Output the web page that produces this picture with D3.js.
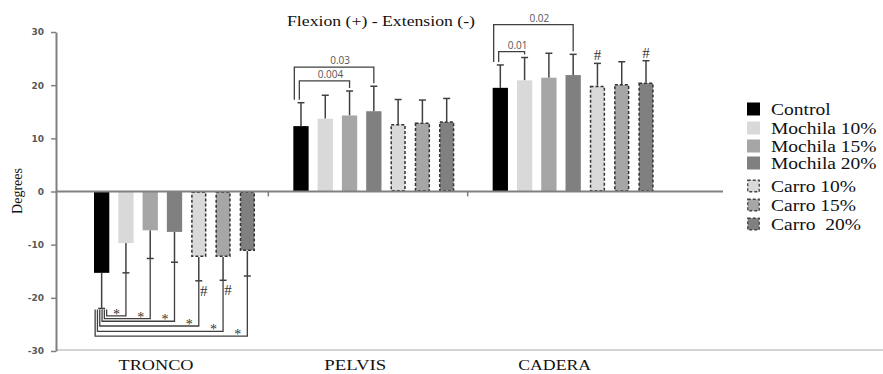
<!DOCTYPE html>
<html><head><meta charset="utf-8">
<script src="https://cdn.jsdelivr.net/npm/d3@7"></script>
<style>body{margin:0;background:#fff}svg{display:block}</style>
</head><body>
<svg id="c" width="883" height="374"></svg>
<script>
const categories = ["TRONCO", "PELVIS", "CADERA"];
const series = ["Control", "Mochila 10%", "Mochila 15%", "Mochila 20%", "Carro 10%", "Carro 15%", "Carro 20%"];
const legendLabels = ["Control", "Mochila 10%", "Mochila 15%", "Mochila 20%", "Carro 10%", "Carro 15%", "Carro  20%"];
// mean values per category, in series order
const troncoMeans = [-15.3, -9.7, -7.3, -7.6, -12.3, -12.3, -11.2];
const pelvisMeans = [12.3, 13.7, 14.3, 15.1, 12.7, 13.0, 13.2];
const caderaMeans = [19.5, 20.9, 21.4, 21.9, 19.9, 20.2, 20.5];
// error bar ends (mean ± SD) per category
const troncoErr = [-22.0, -15.3, -12.6, -13.3, -16.8, -16.7, -15.9];
const pelvisErr = [16.7, 18.1, 18.9, 19.8, 17.3, 17.2, 17.5];
const caderaErr = [23.8, 25.2, 26.0, 25.8, 24.1, 24.4, 24.6];
const yTicks = [-30, -20, -10, 0, 10, 20, 30];
// significance brackets in TRONCO (Control vs each), with their depth level
const troncoSig = [
  {to: "Mochila 10%", level: -23.4},
  {to: "Mochila 15%", level: -23.9},
  {to: "Mochila 20%", level: -24.4},
  {to: "Carro 10%", level: -25.3},
  {to: "Carro 15%", level: -26.3},
  {to: "Carro 20%", level: -27.2}
];
// p-value brackets
const pBrackets = [
  {cat: "PELVIS", to: "Mochila 20%", level: 23.4, label: "0.03", nest: 0},
  {cat: "PELVIS", to: "Mochila 15%", level: 20.8, label: "0.004", nest: 1},
  {cat: "CADERA", to: "Mochila 20%", level: 31.4, label: "0.02", nest: 0},
  {cat: "CADERA", to: "Mochila 10%", level: 26.3, label: "0.01", nest: 1}
];
// hash marks
const hashMarks = [
  {cat: "TRONCO", s: "Carro 10%"}, {cat: "TRONCO", s: "Carro 15%"},
  {cat: "CADERA", s: "Carro 10%"}, {cat: "CADERA", s: "Carro 20%"}
];

const meansBy = {TRONCO: troncoMeans, PELVIS: pelvisMeans, CADERA: caderaMeans};
const errBy = {TRONCO: troncoErr, PELVIS: pelvisErr, CADERA: caderaErr};
const fills = ["#000000", "#d9d9d9", "#a6a6a6", "#808080", "#d9d9d9", "#a6a6a6", "#808080"];
const dashed = [false, false, false, false, true, true, true];

const svg = d3.select("#c");
const y = d3.scaleLinear().domain([-30, 30]).range([351, 32]);
const x0 = d3.scaleBand().domain(categories).range([74, 672]);
const x1 = d3.scaleBand().domain(series).range([20, 181]).paddingInner(0.37);
const bw = x1.bandwidth();
const cx = (c, s) => x0(c) + x1(s) + bw / 2;

// bottom light line
svg.append("line").attr("x1", 56).attr("x2", 883).attr("y1", y(-30) - 1).attr("y2", y(-30) - 1)
  .attr("stroke", "#d4d4d4").attr("stroke-width", 2);

// y axis
const yAxis = svg.append("g").attr("transform", "translate(56,0)")
  .call(d3.axisLeft(y).tickValues(yTicks).tickFormat(d => String(d)).tickSize(5).tickSizeOuter(0).tickPadding(7));
yAxis.select(".domain").attr("stroke", "#808080").attr("stroke-width", 2);
yAxis.selectAll(".tick line").attr("stroke", "#808080").attr("stroke-width", 1.5);
yAxis.selectAll(".tick text").attr("font-family", "DejaVu Sans, sans-serif").attr("font-size", 9)
  .attr("font-weight", "bold").attr("fill", "#595959");

// bars
const rows = [];
categories.forEach(c => series.forEach((s, i) => rows.push({c, s, i, v: meansBy[c][i], e: errBy[c][i]})));

// error bars
const eg = svg.append("g").attr("stroke", "#404040").attr("stroke-width", 1.5);
rows.forEach(d => {
  const x = cx(d.c, d.s);
  eg.append("line").attr("x1", x).attr("x2", x).attr("y1", y(d.v)).attr("y2", y(d.e));
  eg.append("line").attr("x1", x - 3.5).attr("x2", x + 3.5).attr("y1", y(d.e)).attr("y2", y(d.e));
});

svg.append("g").selectAll("rect").data(rows).join("rect")
  .attr("x", d => x0(d.c) + x1(d.s) + (dashed[d.i] ? 0.75 : 0))
  .attr("width", d => bw - (dashed[d.i] ? 1.5 : 0))
  .attr("y", d => Math.min(y(d.v), y(0)) + (dashed[d.i] ? 0.75 : 0))
  .attr("height", d => Math.abs(y(d.v) - y(0)) - (dashed[d.i] ? 1.5 : 0))
  .attr("fill", d => fills[d.i])
  .attr("stroke", d => dashed[d.i] ? "#333" : "none")
  .attr("stroke-width", 1.5)
  .attr("stroke-dasharray", "3,2");

// x axis line
svg.append("line").attr("x1", 56).attr("x2", 723).attr("y1", y(0)).attr("y2", y(0))
  .attr("stroke", "#808080").attr("stroke-width", 2);
categories.slice(1).forEach(c => {
  const xt = x0(c) - 5;
  svg.append("line").attr("x1", xt).attr("x2", xt).attr("y1", y(0)).attr("y2", y(0) + 5)
    .attr("stroke", "#808080").attr("stroke-width", 1.5);
});

// category labels
const catLen = {TRONCO: 75, PELVIS: 62, CADERA: 73};
svg.append("g").selectAll("text").data(categories).join("text")
  .attr("x", c => x0(c) + 82 - catLen[c] / 2)
  .attr("y", 370)
  .attr("font-family", "Liberation Serif, serif").attr("font-size", 15.5)
  .attr("textLength", c => catLen[c]).attr("lengthAdjust", "spacingAndGlyphs")
  .attr("fill", "#111").text(c => c);

// TRONCO significance brackets
const sg = svg.append("g").attr("stroke", "#404040").attr("stroke-width", 1.3).attr("fill", "none");
const ctrlX = cx("TRONCO", "Control");
troncoSig.forEach((b, i) => {
  const lx = ctrlX + 5 - i * 2.3;
  const rx = cx("TRONCO", b.to);
  const targetErr = troncoErr[series.indexOf(b.to)];
  sg.append("path").attr("d", `M${lx},${y(-22.2)}V${y(b.level)}H${rx}V${y(targetErr)}`);
  svg.append("text").attr("x", rx - 13).attr("y", y(b.level) + 3)
    .attr("font-family", "Liberation Serif, serif").attr("font-size", 14).attr("fill", "#333")
    .text("*");
});

// p-value brackets
pBrackets.forEach(b => {
  const lx = x0(b.cat) + x1("Control") + 1 + b.nest * 5;
  const rx = cx(b.cat, b.to);
  const lErr = errBy[b.cat][0];
  const rErr = errBy[b.cat][series.indexOf(b.to)];
  sg.append("path").attr("d", `M${lx},${y(lErr) - 3}V${y(b.level)}H${rx}V${y(rErr) - 3}`);
  svg.append("text").attr("x", (lx + rx) / 2 + 6).attr("y", y(b.level) - 3)
    .attr("text-anchor", "middle").attr("font-family", "Open Sans, sans-serif")
    .attr("font-size", 10).attr("fill", "#555").text(b.label);
});

// hash marks
hashMarks.forEach(h => {
  const i = series.indexOf(h.s);
  const e = errBy[h.cat][i];
  const below = e < 0;
  svg.append("text").attr("x", cx(h.cat, h.s) + (below ? 5 : 0))
    .attr("y", below ? y(e) + 15 : y(e) - 3)
    .attr("text-anchor", "middle").attr("font-family", "Liberation Serif, serif")
    .attr("font-size", 15).attr("fill", "#333").text("#");
});

// title
svg.append("text").attr("x", 287).attr("y", 26)
  .attr("font-family", "Liberation Serif, serif").attr("font-size", 15.5)
  .attr("textLength", 188).attr("lengthAdjust", "spacingAndGlyphs")
  .attr("fill", "#111").text("Flexion (+) - Extension (-)");

// y label
svg.append("text").attr("transform", "translate(22,191) rotate(-90)")
  .attr("text-anchor", "middle").attr("font-family", "Liberation Serif, serif")
  .attr("font-size", 14).attr("fill", "#111").text("Degrees");

// legend
const legY = [109, 128, 146, 163, 186, 205, 224];
const lg = svg.append("g");
legendLabels.forEach((t, i) => {
  lg.append("rect").attr("x", 747 + (dashed[i] ? 0.75 : 0)).attr("y", legY[i] - 6.5 + (dashed[i] ? 0.75 : 0))
    .attr("width", 13 - (dashed[i] ? 1.5 : 0)).attr("height", 13 - (dashed[i] ? 1.5 : 0))
    .attr("fill", fills[i]).attr("stroke", dashed[i] ? "#444" : "none")
    .attr("stroke-width", 1.3).attr("stroke-dasharray", "3,2");
  lg.append("text").attr("transform", `translate(771,${legY[i] + 5.5}) scale(1.22,1)`)
    .attr("font-family", "Liberation Serif, serif").attr("font-size", 16)
    .attr("xml:space", "preserve").style("white-space", "pre")
    .attr("fill", "#111").text(t);
});
</script>
</body></html>
